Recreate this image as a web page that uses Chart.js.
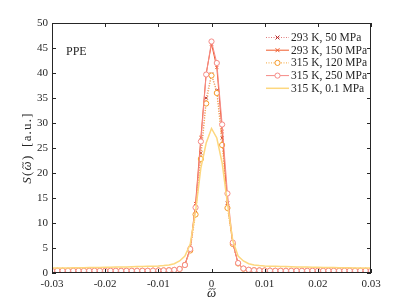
<!DOCTYPE html>
<html>
<head>
<meta charset="utf-8">
<script src="https://cdn.jsdelivr.net/npm/chart.js@4.4.1/dist/chart.umd.min.js"></script>
<style>
  html, body { margin: 0; padding: 0; background: #fff; }
  #wrap { width: 410px; height: 307px; }
</style>
</head>
<body>
<div id="wrap"><canvas id="spec" width="410" height="307"></canvas></div>
<script>
// omega grid (x)
const omega = [
  -0.030, -0.029, -0.028, -0.027, -0.026, -0.025, -0.024, -0.023, -0.022, -0.021,
  -0.020, -0.019, -0.018, -0.017, -0.016, -0.015, -0.014, -0.013, -0.012, -0.011,
  -0.010, -0.009, -0.008, -0.007, -0.006, -0.005, -0.004, -0.003, -0.002, -0.001,
   0.000,
   0.001,  0.002,  0.003,  0.004,  0.005,  0.006,  0.007,  0.008,  0.009,  0.010,
   0.011,  0.012,  0.013,  0.014,  0.015,  0.016,  0.017,  0.018,  0.019,  0.020,
   0.021,  0.022,  0.023,  0.024,  0.025,  0.026,  0.027,  0.028,  0.029,  0.030
];

const s293_50 = [
  0.45, 0.45, 0.45, 0.45, 0.45, 0.45, 0.45, 0.45, 0.45, 0.45,
  0.45, 0.45, 0.45, 0.45, 0.45, 0.45, 0.45, 0.45, 0.45, 0.48,
  0.5, 0.52, 0.55, 0.62, 0.8, 1.7, 4.8, 12.5, 24.0, 35.0,
  39.8,
  36.5, 27.0, 14.0, 6.0, 1.9, 0.85, 0.62, 0.55, 0.52, 0.5,
  0.48, 0.45, 0.45, 0.45, 0.45, 0.45, 0.45, 0.45, 0.45, 0.45,
  0.45, 0.45, 0.45, 0.45, 0.45, 0.45, 0.45, 0.45, 0.45, 0.45
];
const s293_150 = [
  0.45, 0.45, 0.45, 0.45, 0.45, 0.45, 0.45, 0.45, 0.45, 0.45,
  0.45, 0.45, 0.45, 0.45, 0.45, 0.45, 0.45, 0.45, 0.45, 0.48,
  0.5, 0.52, 0.55, 0.62, 0.8, 1.7, 5.0, 13.9, 27.1, 39.9,
  45.8,
  41.1, 28.3, 13.9, 6.0, 1.9, 0.85, 0.62, 0.55, 0.52, 0.5,
  0.48, 0.45, 0.45, 0.45, 0.45, 0.45, 0.45, 0.45, 0.45, 0.45,
  0.45, 0.45, 0.45, 0.45, 0.45, 0.45, 0.45, 0.45, 0.45, 0.45
];
const s315_120 = [
  0.45, 0.45, 0.45, 0.45, 0.45, 0.45, 0.45, 0.45, 0.45, 0.45,
  0.45, 0.45, 0.45, 0.45, 0.45, 0.45, 0.45, 0.45, 0.45, 0.48,
  0.5, 0.52, 0.55, 0.62, 0.8, 1.6, 4.5, 11.7, 22.8, 33.9,
  39.5,
  36.0, 25.6, 13.0, 5.8, 1.9, 0.85, 0.62, 0.55, 0.52, 0.5,
  0.48, 0.45, 0.45, 0.45, 0.45, 0.45, 0.45, 0.45, 0.45, 0.45,
  0.45, 0.45, 0.45, 0.45, 0.45, 0.45, 0.45, 0.45, 0.45, 0.45
];
const s315_250 = [
  0.45, 0.45, 0.45, 0.45, 0.45, 0.45, 0.45, 0.45, 0.45, 0.45,
  0.45, 0.45, 0.45, 0.45, 0.45, 0.45, 0.45, 0.45, 0.45, 0.48,
  0.5, 0.52, 0.55, 0.62, 0.8, 1.6, 4.8, 13.1, 26.3, 39.7,
  46.3,
  42.0, 29.7, 15.9, 6.1, 2.0, 0.9, 0.65, 0.55, 0.52, 0.5,
  0.48, 0.45, 0.45, 0.45, 0.45, 0.45, 0.45, 0.45, 0.45, 0.45,
  0.45, 0.45, 0.45, 0.45, 0.45, 0.45, 0.45, 0.45, 0.45, 0.45
];
const s315_01 = [
  1.0, 1.0, 1.0, 1.02, 1.04, 1.05, 1.06, 1.08, 1.1, 1.12,
  1.14, 1.16, 1.18, 1.2, 1.22, 1.25, 1.28, 1.3, 1.33, 1.36,
  1.4, 1.48, 1.6, 1.85, 2.4, 3.4, 5.8, 12.3, 21.0, 26.0,
  28.9,
  27.0, 22.0, 13.9, 6.5, 3.4, 2.4, 1.85, 1.6, 1.48, 1.4,
  1.36, 1.33, 1.3, 1.28, 1.25, 1.22, 1.2, 1.18, 1.16, 1.14,
  1.12, 1.1, 1.08, 1.06, 1.05, 1.04, 1.02, 1.0, 1.0, 1.0
];

const seriesNames = ['293 K, 50 MPa', '293 K, 150 MPa', '315 K, 120 MPa', '315 K, 250 MPa', '315 K, 0.1 MPa'];
const yTicks = [0, 5, 10, 15, 20, 25, 30, 35, 40, 45, 50];
const xTicks = [-0.03, -0.02, -0.01, 0, 0.01, 0.02, 0.03];

const SERIF = '"Liberation Serif", "DejaVu Serif", serif';
const INK = '#262626';

function pts(vals) {
  return omega.map((w, i) => ({ x: w, y: vals[i] }));
}

const looks = [
  { line: '#e07a7a', mark: '#b52a2a', dash: [1, 1.5], style: 'crossRot', r: 2.2, fill: '#b52a2a', w: 1 },
  { line: '#f05a2a', mark: '#f05a2a', dash: [], style: 'crossRot', r: 2.2, fill: '#f05a2a', w: 1 },
  { line: '#f5a63c', mark: '#f59a2a', dash: [1, 1.5], style: 'circle', r: 2.6, fill: '#ffffff', w: 1 },
  { line: '#f58a86', mark: '#f58a86', dash: [], style: 'circle', r: 2.6, fill: '#ffffff', w: 1 },
  { line: '#fdd77e', mark: '#fdd77e', dash: [], style: false, r: 0, fill: '#fdd77e', w: 1.5 }
];
const allSeries = [s293_50, s293_150, s315_120, s315_250, s315_01];

const datasets = allSeries.map((vals, i) => ({
  label: seriesNames[i],
  data: pts(vals),
  borderColor: looks[i].line,
  borderWidth: looks[i].w,
  borderDash: looks[i].dash,
  pointStyle: looks[i].style,
  pointRadius: looks[i].r,
  pointBorderColor: looks[i].mark,
  pointBackgroundColor: looks[i].fill,
  pointBorderWidth: 1,
  tension: 0,
  fill: false,
  order: 4 - i
}));

// italic omega with a drawn tilde on top, starting at x (left), baseline y
function omegaTilde(ctx, x, y, size) {
  ctx.font = 'italic ' + size + 'px ' + SERIF;
  const w = ctx.measureText('\u03c9').width;
  ctx.fillText('\u03c9', x, y);
  const cx = x + w / 2 + size * 0.05;
  const ty = y - size * 0.62;
  const hw = w * 0.36;
  ctx.save();
  ctx.lineWidth = size * 0.07;
  ctx.strokeStyle = ctx.fillStyle;
  ctx.beginPath();
  ctx.moveTo(cx - hw, ty + 0.6);
  ctx.bezierCurveTo(cx - hw * 0.5, ty - 1.6, cx - hw * 0.1, ty + 1.2, cx, ty);
  ctx.bezierCurveTo(cx + hw * 0.1, ty - 1.2, cx + hw * 0.5, ty + 1.6, cx + hw, ty - 0.6);
  ctx.stroke();
  ctx.restore();
  return w;
}

// box, inside ticks, legend and labels
const decor = {
  id: 'decor',
  afterDraw(chart) {
    const { ctx, chartArea: a, scales: { x, y } } = chart;
    ctx.save();
    ctx.strokeStyle = INK;
    ctx.lineWidth = 1;
    ctx.setLineDash([]);
    ctx.strokeRect(a.left + 0.5, a.top + 0.5, a.right - a.left - 1, a.bottom - a.top - 1);
    ctx.beginPath();
    xTicks.forEach(v => {
      const px = Math.round(x.getPixelForValue(v)) + 0.5;
      ctx.moveTo(px, a.bottom); ctx.lineTo(px, a.bottom - 4);
      ctx.moveTo(px, a.top); ctx.lineTo(px, a.top + 4);
    });
    yTicks.forEach(v => {
      const py = Math.round(y.getPixelForValue(v)) + 0.5;
      ctx.moveTo(a.left, py); ctx.lineTo(a.left + 4, py);
      ctx.moveTo(a.right, py); ctx.lineTo(a.right - 4, py);
    });
    ctx.stroke();

    // PPE tag
    ctx.fillStyle = INK;
    ctx.font = '12px ' + SERIF;
    ctx.textAlign = 'left';
    ctx.textBaseline = 'middle';
    ctx.fillText('PPE', 66, 52);

    // legend
    ctx.font = '11.5px ' + SERIF;
    seriesNames.forEach((name, i) => {
      const lk = looks[i];
      const yy = 37.5 + i * 12.7;
      ctx.strokeStyle = lk.line;
      ctx.lineWidth = lk.w;
      ctx.setLineDash(lk.dash);
      ctx.beginPath();
      ctx.moveTo(266, yy); ctx.lineTo(289, yy);
      ctx.stroke();
      ctx.setLineDash([]);
      if (lk.style) {
        ctx.lineWidth = 1;
        ctx.strokeStyle = lk.mark;
        ctx.fillStyle = lk.fill;
        ctx.beginPath();
        if (lk.style === 'circle') {
          ctx.arc(277.5, yy, lk.r, 0, Math.PI * 2);
          ctx.fill(); ctx.stroke();
        } else {
          const d = lk.r * 0.9;
          ctx.moveTo(277.5 - d, yy - d); ctx.lineTo(277.5 + d, yy + d);
          ctx.moveTo(277.5 - d, yy + d); ctx.lineTo(277.5 + d, yy - d);
          ctx.stroke();
        }
      }
      ctx.fillStyle = INK;
      ctx.fillText(name, 291, yy + 0.5);
    });

    // x title
    ctx.textBaseline = 'alphabetic';
    ctx.fillStyle = INK;
    ctx.font = 'italic 13px ' + SERIF;
    const ow = ctx.measureText('\u03c9').width;
    omegaTilde(ctx, (a.left + a.right) / 2 - ow / 2, 297, 13);

    // y title
    ctx.translate(31, (a.top + a.bottom) / 2);
    ctx.rotate(-Math.PI / 2);
    const fs = 13;
    const gap = 1.2;
    const parts = [
      ['italic', 'S'], ['', '('], ['w', ''], ['', ')'], ['', '  '],
      ['', '['], ['', 'a'], ['', '.'], ['', 'u'], ['', '.'], ['', ']']
    ];
    const widthOf = p => {
      if (p[0] === 'w') { ctx.font = 'italic ' + fs + 'px ' + SERIF; return ctx.measureText('\u03c9').width; }
      ctx.font = (p[0] ? p[0] + ' ' : '') + fs + 'px ' + SERIF;
      return ctx.measureText(p[1]).width;
    };
    let total = 0;
    parts.forEach(p => { total += widthOf(p) + gap; });
    let cx = -total / 2;
    ctx.textAlign = 'left';
    parts.forEach(p => {
      const w = widthOf(p);
      if (p[0] === 'w') omegaTilde(ctx, cx, 0, fs);
      else { ctx.fillText(p[1], cx, 0); }
      cx += w + gap;
    });
    ctx.restore();
  }
};

new Chart(document.getElementById('spec'), {
  type: 'line',
  data: { datasets: datasets },
  options: {
    responsive: false,
    animation: false,
    layout: { padding: { top: 23, right: 39, left: 0, bottom: 0 } },
    plugins: { legend: { display: false }, tooltip: { enabled: false } },
    scales: {
      x: {
        type: 'linear',
        min: -0.03, max: 0.03,
        afterFit: s => { s.height = 34; },
        afterBuildTicks: s => { s.ticks = xTicks.map(v => ({ value: v })); },
        grid: { display: false, drawTicks: false, tickLength: 0 },
        border: { display: false },
        ticks: {
          padding: 5,
          color: INK,
          font: { family: SERIF, size: 11 },
          maxRotation: 0,
          callback: v => (v === 0 ? '0' : String(Math.round(v * 100) / 100))
        }
      },
      y: {
        min: 0, max: 50,
        afterFit: s => { s.width = 52; },
        afterBuildTicks: s => { s.ticks = yTicks.map(v => ({ value: v })); },
        grid: { display: false, drawTicks: false, tickLength: 0 },
        border: { display: false },
        ticks: {
          padding: 4,
          color: INK,
          font: { family: SERIF, size: 11 }
        }
      }
    }
  },
  plugins: [decor]
});
</script>
</body>
</html>
